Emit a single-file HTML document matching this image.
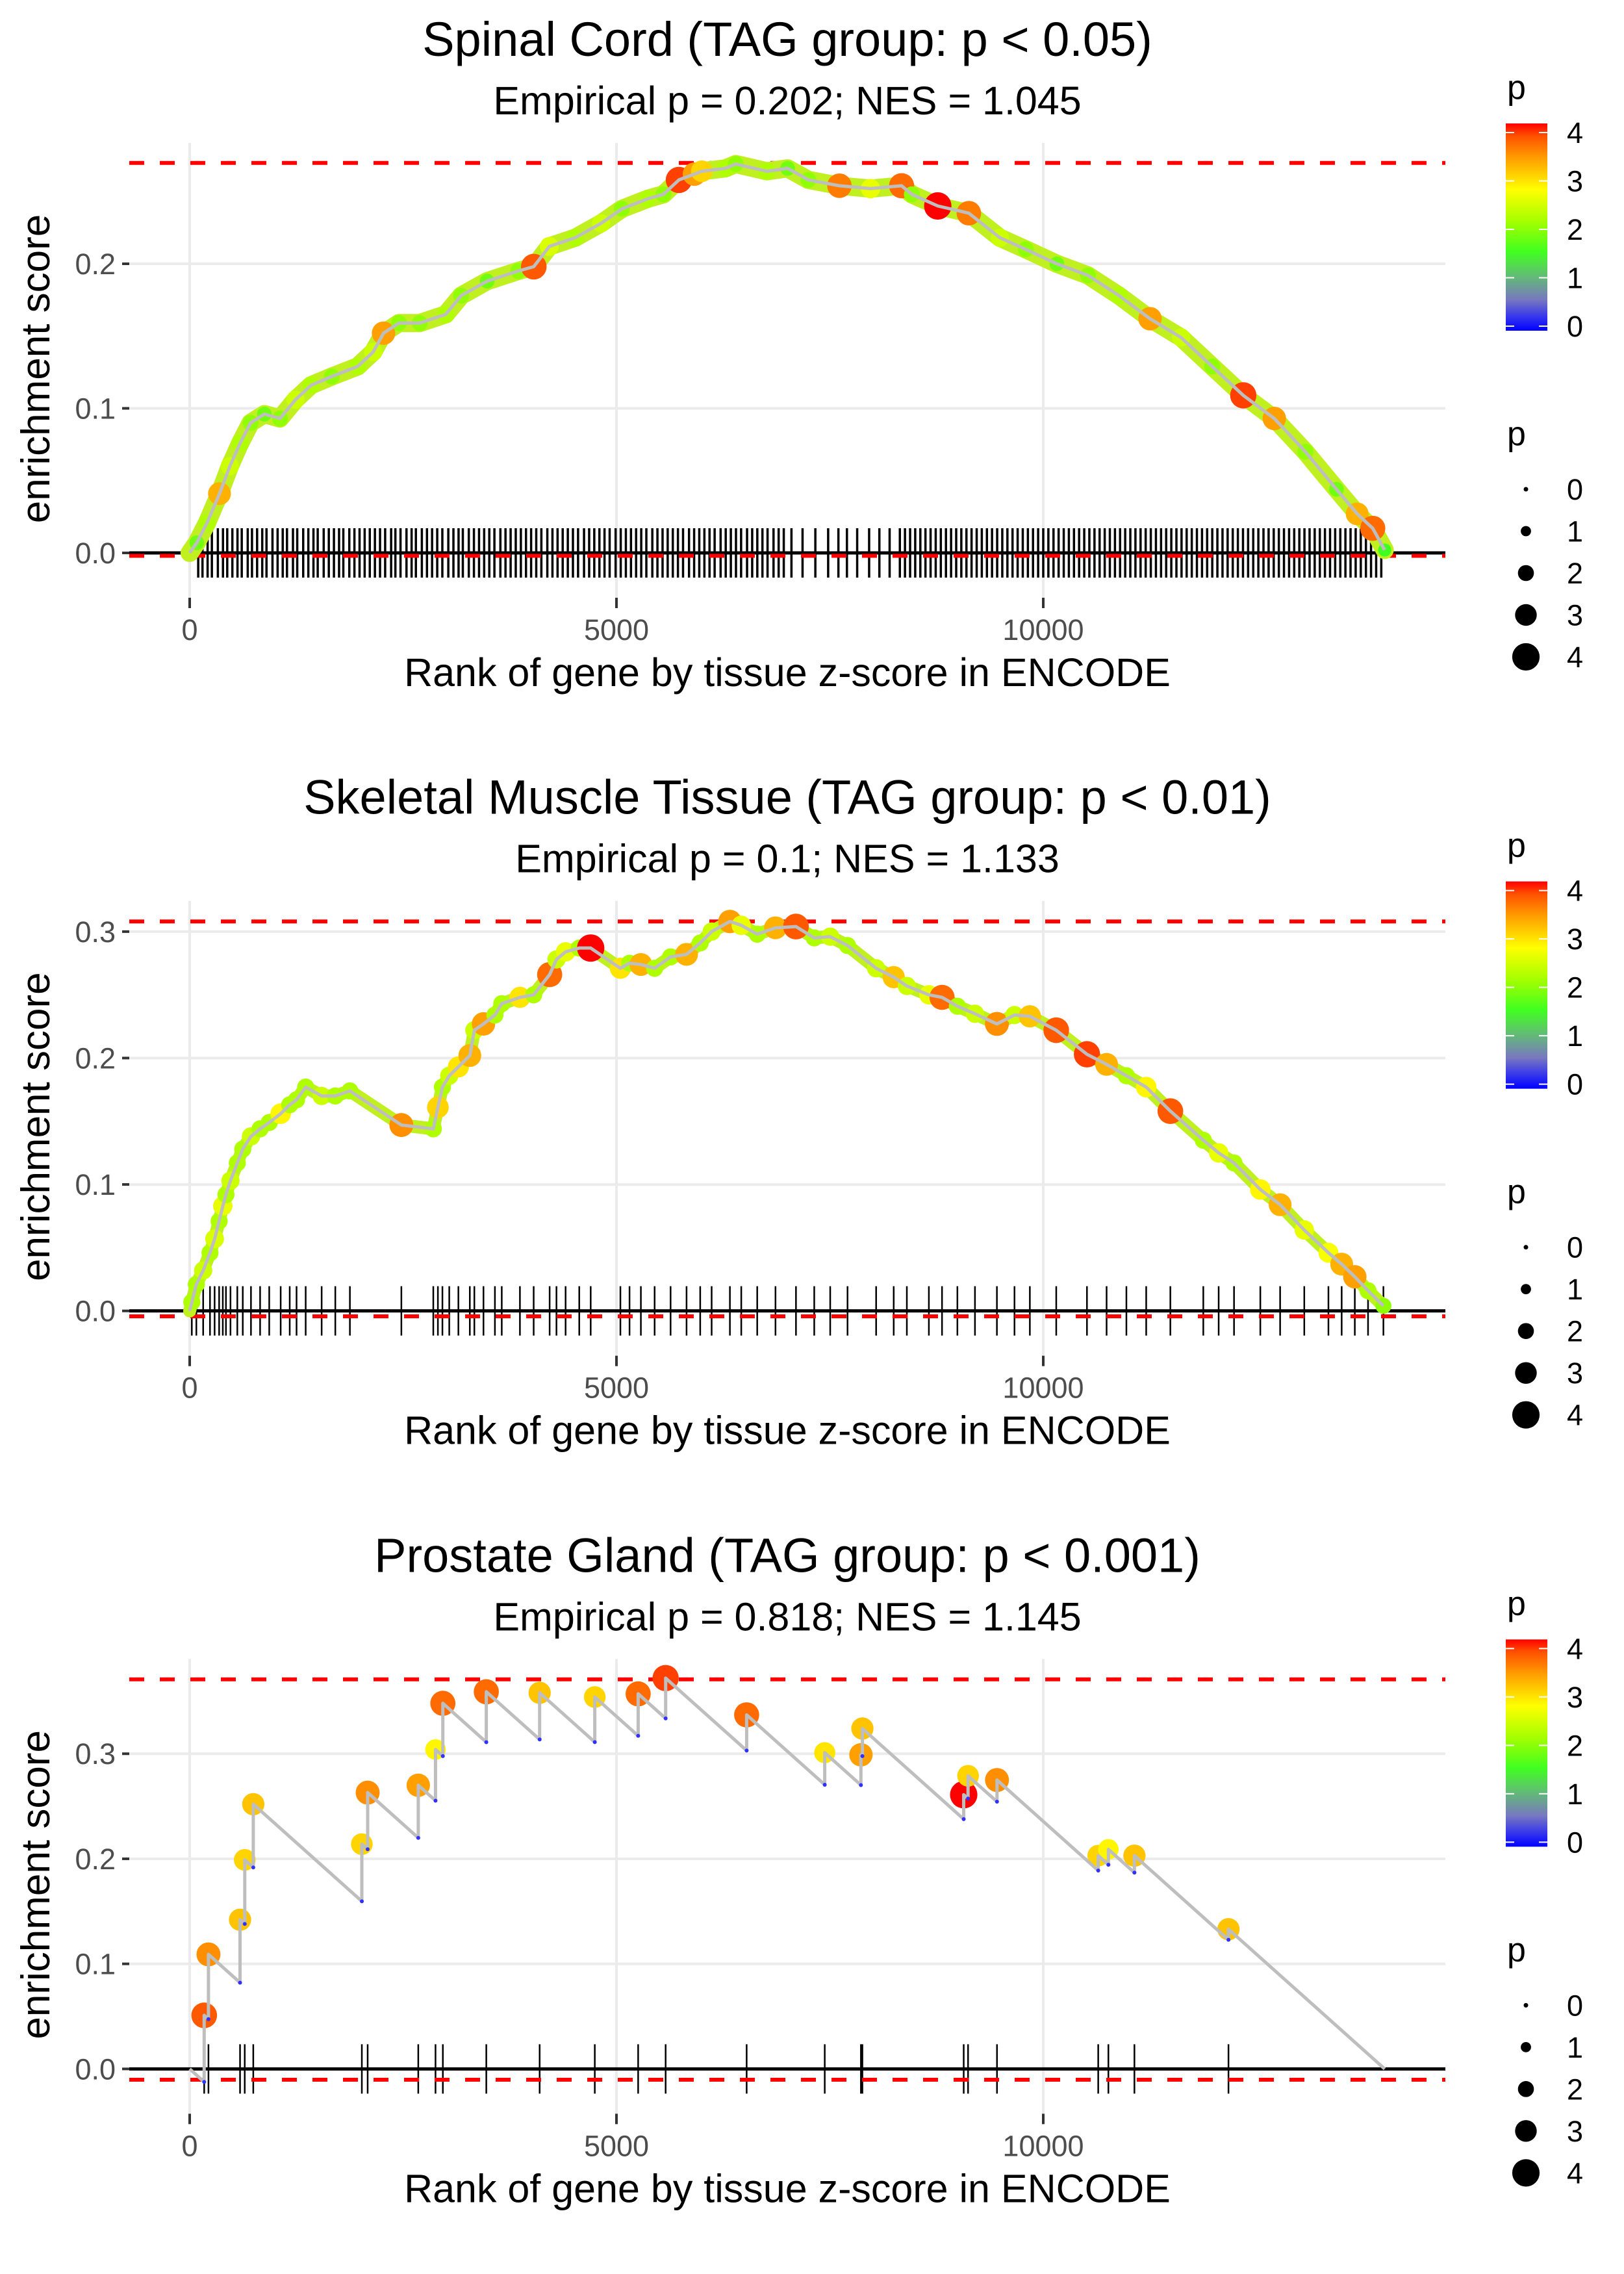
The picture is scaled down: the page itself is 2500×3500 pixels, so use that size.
<!DOCTYPE html>
<html><head><meta charset="utf-8"><style>
html,body{margin:0;padding:0;background:#fff;}
svg{display:block;font-family:"Liberation Sans",Arial,sans-serif;}
</style></head>
<body>
<svg id="chart" width="2500" height="3500" viewBox="0 0 2500 3500" xmlns="http://www.w3.org/2000/svg">
<defs>
<linearGradient id="pgrad" x1="0" y1="1" x2="0" y2="0">
<stop offset="0" stop-color="#0000ff"/>
<stop offset="0.06" stop-color="#3030f0"/>
<stop offset="0.15" stop-color="#7878c0"/>
<stop offset="0.27" stop-color="#60c070"/>
<stop offset="0.38" stop-color="#40ff20"/>
<stop offset="0.52" stop-color="#a0ff00"/>
<stop offset="0.68" stop-color="#ffff00"/>
<stop offset="0.83" stop-color="#ffa000"/>
<stop offset="0.94" stop-color="#ff5000"/>
<stop offset="1" stop-color="#ff0000"/>
</linearGradient>
</defs>
</svg>
<script>
// ---- Panel 1: Spinal Cord ----
const ranks1=[83,205,349,471,592,714,875,1058,1240,1422,1665,1968,2150,2271,2453,2695,2999,3181,3485,3849,4031,4213,4517,4820,5063,5367,5549,5731,5913,6000,6277,6398,6762,7005,7248,7612,7976,8340,8461,8764,9128,9492,9795,10159,10523,10887,11251,11615,11979,12343,12707,13071,13435,13678,13860,14000];
const es1=[0.007,0.021,0.041,0.060,0.076,0.090,0.096,0.093,0.106,0.116,0.122,0.129,0.139,0.152,0.159,0.159,0.165,0.178,0.188,0.195,0.198,0.212,0.218,0.228,0.238,0.245,0.248,0.258,0.262,0.264,0.266,0.269,0.264,0.266,0.258,0.254,0.252,0.254,0.248,0.240,0.235,0.218,0.210,0.200,0.192,0.178,0.162,0.149,0.129,0.109,0.093,0.070,0.044,0.027,0.017,0.002];
const p1=[1.8,2.2,3.2,2.4,2.2,2.0,1.8,2.0,2.4,2.2,2.0,2.2,2.4,3.3,2.0,2.0,2.2,2.0,1.8,2.0,3.7,2.5,2.2,2.4,2.0,2.2,2.0,3.8,3.3,3.0,2.2,2.0,2.2,1.8,2.0,3.5,2.6,3.6,2.0,4.0,3.5,2.4,2.0,1.8,2.0,2.2,3.3,2.4,2.0,3.8,3.3,2.0,1.8,3.2,3.6,1.5];
const rug1=[100,150,210,260,330,390,440,500,560,610,680,730,790,850,900,970,1030,1090,1140,1210,1260,1330,1390,1450,1500,1570,1630,1690,1750,1800,1870,1930,1990,2050,2110,2170,2230,2290,2360,2410,2470,2540,2600,2650,2720,2780,2840,2900,2960,3030,3090,3150,3200,3270,3330,3390,3450,3510,3570,3640,3700,3760,3820,3880,3940,4000,4060,4120,4190,4250,4310,4370,4430,4490,4550,4620,4680,4740,4800,4860,4920,4990,5050,5110,5170,5230,5290,5350,5420,5480,5540,5600,5660,5720,5780,5850,5910,5970,6030,6090,6150,6220,6280,6340,6400,6460,6530,6590,6650,6710,6770,6840,6900,6960,7050,7180,7330,7480,7600,7700,7820,7960,8080,8200,8320,8380,8440,8500,8560,8620,8680,8740,8800,8860,8920,8980,9040,9100,9160,9220,9280,9340,9400,9460,9520,9580,9640,9700,9760,9820,9880,9940,10000,10060,10120,10180,10240,10300,10360,10420,10480,10540,10600,10660,10720,10780,10840,10900,10960,11020,11080,11140,11200,11260,11320,11380,11440,11500,11560,11620,11680,11740,11800,11860,11920,11980,12040,12100,12160,12220,12280,12340,12400,12460,12520,12580,12640,12700,12760,12820,12880,12940,13000,13060,13120,13180,13240,13300,13360,13420,13480,13540,13600,13660,13720,13780,13840,13900,13960];
const yTicks1=[0,0.1,0.2];
const yTickLabels1=["0.0","0.1","0.2"];
const esMax1=0.2698, esMin1=-0.002;

// ---- Panel 2: Skeletal Muscle ----
const ranks2=[25,78,158,238,292,345,388,425,478,558,622,718,825,932,1066,1172,1252,1359,1546,1706,1877,2480,2854,2908,2961,3041,3148,3282,3335,3442,3576,3656,3869,4030,4217,4297,4404,4564,4698,5046,5153,5286,5447,5634,5821,5981,6115,6329,6462,6649,6863,7103,7317,7504,7707,8042,8248,8402,8660,8814,8994,9200,9457,9663,9843,10152,10512,10742,10974,11206,11489,11875,12055,12235,12543,12775,13058,13341,13496,13650,13805,13985];
const es2=[0.007,0.021,0.032,0.046,0.057,0.071,0.083,0.092,0.103,0.117,0.128,0.138,0.144,0.149,0.156,0.163,0.167,0.177,0.170,0.170,0.174,0.147,0.144,0.161,0.177,0.186,0.193,0.202,0.222,0.227,0.234,0.243,0.248,0.250,0.266,0.278,0.284,0.287,0.287,0.271,0.275,0.274,0.271,0.280,0.282,0.291,0.300,0.308,0.305,0.298,0.303,0.304,0.295,0.296,0.289,0.271,0.264,0.257,0.250,0.248,0.241,0.235,0.227,0.234,0.233,0.222,0.203,0.195,0.186,0.177,0.158,0.135,0.125,0.117,0.096,0.084,0.064,0.046,0.037,0.027,0.016,0.004];
const p2=[2.2,2.2,2.4,2.2,2.5,2.2,2.6,2.2,2.4,2.2,2.2,2.4,2.2,2.2,2.8,2.2,2.2,2.2,2.4,2.2,2.2,3.4,2.2,3.0,2.2,2.4,2.9,3.2,2.4,3.3,2.2,2.2,2.9,2.2,3.6,2.4,2.6,2.2,4.0,2.9,2.2,3.2,2.2,2.2,3.2,2.2,2.4,3.3,2.6,2.2,3.2,3.7,2.2,2.4,2.2,2.4,3.1,2.4,2.6,3.6,2.2,2.4,3.4,2.4,3.1,3.7,3.8,3.2,2.2,2.8,3.7,2.2,2.6,2.2,2.8,3.2,2.6,2.7,3.2,3.3,2.2,2.0];
const yTicks2=[0,0.1,0.2,0.3];
const yTickLabels2=["0.0","0.1","0.2","0.3"];
const esMax2=0.308, esMin2=-0.0043;

// ---- Panel 3: Prostate Gland ----
const ranks3=[170,220,590,645,745,2017,2085,2678,2880,2966,3475,4100,4746,5254,5576,6525,7440,7864,7881,9068,9119,9458,10644,10763,11068,12170];
const es3=[0.051,0.109,0.142,0.199,0.252,0.214,0.263,0.270,0.304,0.348,0.359,0.358,0.354,0.357,0.372,0.337,0.301,0.299,0.324,0.261,0.279,0.275,0.203,0.209,0.203,0.133];
const p3=[3.7,3.4,3.1,3.0,3.1,3.0,3.4,3.3,2.8,3.6,3.6,3.1,3.0,3.6,3.8,3.6,2.9,3.3,3.1,4.0,3.0,3.4,3.0,2.8,3.1,3.1];
const yTicks3=[0,0.1,0.2,0.3];
const yTickLabels3=["0.0","0.1","0.2","0.3"];
const esMax3=0.3708, esMin3=-0.0103;

const xTicks=[0,5000,10000];
const xTickLabels=["0","5000","10000"];
const legendValues=[0,1,2,3,4];
const nGenes=14000;

const svg=document.getElementById('chart');
const NS='http://www.w3.org/2000/svg';
function mk(tag,attrs,parent){const e=document.createElementNS(NS,tag);for(const k in attrs)e.setAttribute(k,attrs[k]);(parent||svg).appendChild(e);return e;}

const colorStops=[[0,[0,0,255]],[0.25,[48,48,240]],[0.6,[120,120,192]],[1.05,[96,192,112]],[1.5,[64,255,32]],[2.1,[160,255,0]],[2.75,[255,255,0]],[3.3,[255,160,0]],[3.75,[255,80,0]],[4,[255,0,0]]];
function pColor(p){
  p=Math.max(0,Math.min(4,p));
  for(let i=1;i<colorStops.length;i++){
    if(p<=colorStops[i][0]){const a=colorStops[i-1],b=colorStops[i];const t=(p-a[0])/(b[0]-a[0]);
      const c=a[1].map((v,j)=>Math.round(v+(b[1][j]-v)*t));return 'rgb('+c.join(',')+')';}
  }
  return 'rgb(255,0,0)';
}
function pRadius(p){return 3.5+4.4*p;}

const PL=199, PR=2225, PT=220, PB=925, Z=851;
const xScale=r=>292+r*(657/5000);

function panel(idx,title,sub,ranks,es,ps,rug,yTicks,yLabels,esMax,esMin,pxPerUnit,sawtooth,bandWidth,rugWidth){
  const oy=idx*1166.67;
  const g=mk('g',{transform:'translate(0,'+oy+')'});
  
  
  const yS=v=>Z-v*pxPerUnit;
  yTicks.forEach(v=>{const l=mk('line',{x1:PL,x2:PR,y1:yS(v),y2:yS(v),stroke:'#ebebeb','stroke-width':4},g);
    
    });
  xTicks.forEach(v=>{const l=mk('line',{x1:xScale(v),x2:xScale(v),y1:PT,y2:PB,stroke:'#ebebeb','stroke-width':4},g);
    
    });
  const t=mk('text',{x:1212,y:86,'text-anchor':'middle','font-size':74,fill:'#000'},g);t.textContent=title;
  
  
  const s=mk('text',{x:1212,y:176,'text-anchor':'middle','font-size':61,fill:'#000'},g);s.textContent=sub;
  
  
  yTicks.forEach((v,i)=>{
    const tk=mk('line',{x1:188,x2:199,y1:yS(v),y2:yS(v),stroke:'#333','stroke-width':4},g);
    
    
    const lb=mk('text',{x:178,y:yS(v)+16,'text-anchor':'end','font-size':45,fill:'#4d4d4d'},g);lb.textContent=yLabels[i];
    
    
  });
  xTicks.forEach((v,i)=>{
    const tk=mk('line',{x1:xScale(v),x2:xScale(v),y1:PB-5,y2:PB+11,stroke:'#333','stroke-width':4},g);
    
    
    const lb=mk('text',{x:xScale(v),y:985,'text-anchor':'middle','font-size':45,fill:'#4d4d4d'},g);lb.textContent=xTickLabels[i];
    
    
  });
  const xt=mk('text',{x:1212,y:1056,'text-anchor':'middle','font-size':61,fill:'#000'},g);xt.textContent='Rank of gene by tissue z-score in ENCODE';
  
  
  const yt=mk('text',{x:0,y:0,'text-anchor':'middle','font-size':62,fill:'#000',transform:'translate(76,'+((PT+PB)/2-5)+') rotate(-90)'},g);yt.textContent='enrichment score';
  
  
  rug.forEach(r=>{const l=mk('line',{x1:xScale(r),x2:xScale(r),y1:Z-38,y2:Z+38,stroke:'#000','stroke-width':rugWidth},g);
    
    });
  const zl=mk('line',{x1:PL,x2:PR,y1:Z,y2:Z,stroke:'#000','stroke-width':5},g);
  
  
  [esMax,esMin].forEach((v,i)=>{const l=mk('line',{x1:PL,x2:PR,y1:yS(v),y2:yS(v),stroke:'#ff0000','stroke-width':6,'stroke-dasharray':'23 24'},g);
    
    });
  let pts=[[0,0]];const lows=[];
  if(sawtooth){
    const d=es[es.length-1]/(nGenes-ranks[ranks.length-1]);
    let pr=0,pe=0;
    ranks.forEach((r,i)=>{const low=pe-d*(r-pr);pts.push([r,low]);lows.push([r,low]);pts.push([r,es[i]]);pr=r;pe=es[i];});
    pts.push([nGenes,0]);
  } else {
    ranks.forEach((r,i)=>pts.push([r,es[i]]));
  }
  const ptsStr=pts.map(p=>xScale(p[0]).toFixed(1)+','+yS(p[1]).toFixed(1)).join(' ');
  if(bandWidth>0){const b=mk('polyline',{points:ptsStr,fill:'none',stroke:'#c0f020','stroke-width':bandWidth,'stroke-linejoin':'round','stroke-linecap':'round'},g);
    
    }
  ranks.forEach((r,i)=>{const c=mk('circle',{cx:xScale(r),cy:yS(es[i]),r:pRadius(ps[i]),fill:pColor(ps[i])},g);
    
    });
  const pl=mk('polyline',{points:ptsStr,fill:'none',stroke:'#bebebe','stroke-width':5,'stroke-linejoin':'round'},g);
  
  
  lows.forEach(l=>{const c=mk('circle',{cx:xScale(l[0]),cy:yS(l[1]),r:3,fill:'#3030ff'},g);
    
    });
  const pt=mk('text',{x:2320,y:152,'font-size':52,fill:'#000'},g);pt.textContent='p';
  
  
  const cb=mk('rect',{x:2318,y:190,width:64,height:319,fill:'url(#pgrad)'},g);
  
  
  legendValues.forEach(v=>{const y=502-v*74.5;
    mk('line',{x1:2318,x2:2331,y1:y,y2:y,stroke:'#fff','stroke-width':2},g);
    mk('line',{x1:2369,x2:2382,y1:y,y2:y,stroke:'#fff','stroke-width':2},g);
    const lb=mk('text',{x:2412,y:y+16,'font-size':45,fill:'#000'},g);lb.textContent=String(v);
    
    });
  const st=mk('text',{x:2320,y:685,'font-size':52,fill:'#000'},g);st.textContent='p';
  
  
  legendValues.forEach((v,i)=>{const y=753+i*64.5;
    const c=mk('circle',{cx:2349,cy:y,r:pRadius(v),fill:'#000'},g);
    
    
    const lb=mk('text',{x:2412,y:y+16,'font-size':45,fill:'#000'},g);lb.textContent=String(v);
    
    });
}
panel(0,'Spinal Cord (TAG group: p < 0.05)','Empirical p = 0.202; NES = 1.045',ranks1,es1,p1,rug1,yTicks1,yTickLabels1,esMax1,esMin1,2225,false,28,3.5);
panel(1,'Skeletal Muscle Tissue (TAG group: p < 0.01)','Empirical p = 0.1; NES = 1.133',ranks2,es2,p2,ranks2,yTicks2,yTickLabels2,esMax2,esMin2,1946,false,20,2.5);
panel(2,'Prostate Gland (TAG group: p < 0.001)','Empirical p = 0.818; NES = 1.145',ranks3,es3,p3,ranks3,yTicks3,yTickLabels3,esMax3,esMin3,1617,true,0,2.5);
</script>
</body></html>
